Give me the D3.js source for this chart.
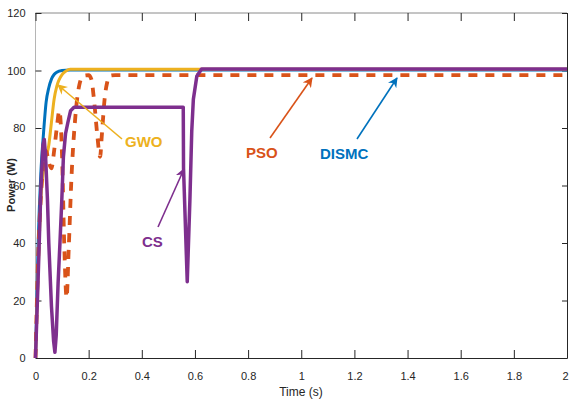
<!DOCTYPE html>
<html>
<head>
<meta charset="utf-8">
<script src="https://cdn.jsdelivr.net/npm/d3@7"></script>
<style>
  body { margin: 0; background: #fff; }
  svg { display: block; }
</style>
</head>
<body>
<svg id="plotSVG" width="569" height="401"></svg>
<script>
// values: time (s) and power (W)
let dismcT = [0, 0.01, 0.02, 0.03, 0.04, 0.05, 0.06, 0.07, 0.08, 0.1, 0.13, 2]
let dismcP = [0, 40, 64, 78, 89, 94, 97, 98.6, 99.4, 100, 100.2, 100.2]

let gwoT = [0, 0.01, 0.02, 0.035, 0.05, 0.06, 0.07, 0.08, 0.09, 0.1, 0.115, 0.13, 2]
let gwoP = [0, 30, 55, 68, 74, 82, 90, 94.5, 97, 98.6, 99.8, 100.4, 100.4]

let psoT = [0, 0.01, 0.02, 0.03, 0.04, 0.05, 0.06, 0.07, 0.08, 0.09, 0.1, 0.108, 0.117,
            0.125, 0.135, 0.15, 0.165, 0.18, 0.2, 0.21, 0.22, 0.232, 0.243, 0.25, 0.26, 0.27, 0.28, 0.3, 2]
let psoP = [0, 35, 56, 68, 72, 68, 66, 72, 80, 86, 70, 40, 21,
            38, 62, 84, 95, 98.2, 98.4, 97, 90, 78, 70, 78, 90, 96, 98.2, 98.4, 98.4]

let csT = [0, 0.01, 0.02, 0.028, 0.033, 0.038, 0.045, 0.05, 0.06, 0.068, 0.073, 0.078, 0.085,
           0.092, 0.099, 0.105, 0.113, 0.122, 0.132, 0.145, 0.556, 0.557, 0.571, 0.581, 0.588, 0.594, 0.607, 0.625, 2]
let csP = [0, 28, 58, 74, 76, 70, 55, 40, 18, 6, 2, 8, 26,
           40, 55, 70, 78, 82, 86, 87.2, 87.2, 66, 26.5, 55, 79, 90, 98, 100.5, 100.5]

let xTicks = [0, 0.2, 0.4, 0.6, 0.8, 1, 1.2, 1.4, 1.6, 1.8, 2]
let xTickLabels = ["0", "0.2", "0.4", "0.6", "0.8", "1", "1.2", "1.4", "1.6", "1.8", "2"]
let yTicks = [0, 20, 40, 60, 80, 100, 120]
let yTickLabels = ["0", "20", "40", "60", "80", "100", "120"]

let seriesNames = ["DISMC", "GWO", "PSO", "CS"]
let seriesColors = {
    "DISMC": "#0072BD",
    "GWO": "#EDB120",
    "PSO": "#D95319",
    "CS": "#7E2F8E"}

let xScale = d3.scaleLinear().domain([0, 2]).range([35.5, 567])
let yScale = d3.scaleLinear().domain([0, 120]).range([358, 13])

let svg = d3.select("#plotSVG")
let tickFont = "'Liberation Sans Narrow', 'Liberation Sans', Arial, sans-serif"

// box lines
svg.append("line").attr("x1", 35.5).attr("x2", 567).attr("y1", 13).attr("y2", 13)
    .attr("stroke", "#8a8a8a").attr("stroke-width", 1)
svg.append("line").attr("x1", 35.5).attr("x2", 35.5).attr("y1", 13).attr("y2", 358)
    .attr("stroke", "#b5b5b5").attr("stroke-width", 1)

// bottom axis (ticks point inward)
let xAxis = svg.append("g")
    .attr("transform", "translate(0,358)")
    .call(d3.axisBottom(xScale)
        .tickValues(xTicks)
        .tickFormat((d, i) => xTickLabels[i])
        .tickSizeInner(-8)
        .tickSizeOuter(0)
        .tickPadding(14))
xAxis.select(".domain").attr("stroke", "#262626")
xAxis.selectAll("text").style("font-family", tickFont).style("font-size", "11px").attr("fill", "#262626")
// the last label sits on the window edge, pull it in a little
xAxis.selectAll("text").filter(d => d === 2).attr("dx", -2)

// top ticks
svg.append("g")
    .attr("transform", "translate(0,13)")
    .call(d3.axisTop(xScale).tickValues(xTicks).tickFormat("").tickSizeInner(-8).tickSizeOuter(0))
    .select(".domain").remove()

// left axis
let yAxis = svg.append("g")
    .attr("transform", "translate(35.5,0)")
    .call(d3.axisLeft(yScale)
        .tickValues(yTicks)
        .tickFormat((d, i) => yTickLabels[i])
        .tickSizeInner(-6)
        .tickSizeOuter(0)
        .tickPadding(10))
yAxis.select(".domain").remove()
yAxis.selectAll("text").style("font-family", tickFont).style("font-size", "11px").attr("fill", "#262626")

// right axis
let rAxis = svg.append("g")
    .attr("transform", "translate(567,0)")
    .call(d3.axisRight(yScale).tickValues(yTicks).tickFormat("").tickSizeInner(-5).tickSizeOuter(0))
rAxis.select(".domain").attr("stroke", "#262626")

svg.selectAll(".tick line").attr("stroke", "#262626")

// axis titles
svg.append("text")
    .attr("x", 301).attr("y", 396)
    .attr("text-anchor", "middle")
    .style("font-family", tickFont)
    .style("font-size", "12px")
    .attr("fill", "#262626")
    .text("Time (s)")

svg.append("text")
    .attr("transform", "translate(15,185) rotate(-90)")
    .attr("text-anchor", "middle")
    .style("font-family", "'Liberation Sans', Arial, sans-serif")
    .style("font-size", "11px")
    .style("font-weight", "bold")
    .attr("fill", "#262626")
    .text("Power (W)")

// curves
let line = d3.line().x(d => xScale(d[0])).y(d => yScale(d[1])).curve(d3.curveMonotoneX)
let zipped = (ts, ps) => ts.map((t, i) => [t, ps[i]])

let plot = svg.append("g")
plot.append("path").datum(zipped(dismcT, dismcP))
    .attr("d", line).attr("fill", "none")
    .attr("stroke", seriesColors.DISMC).attr("stroke-width", 3)
plot.append("path").datum(zipped(gwoT, gwoP))
    .attr("d", line).attr("fill", "none")
    .attr("stroke", seriesColors.GWO).attr("stroke-width", 3)
plot.append("path").datum(zipped(psoT, psoP))
    .attr("d", line).attr("fill", "none")
    .attr("stroke", seriesColors.PSO).attr("stroke-width", 3.8)
    .attr("stroke-dasharray", "9,8")
plot.append("path").datum(zipped(csT, csP))
    .attr("d", d3.line().x(d => xScale(d[0])).y(d => yScale(d[1])))
    .attr("fill", "none")
    .attr("stroke", seriesColors.CS).attr("stroke-width", 3.5)
    .attr("stroke-linejoin", "round")

// arrow heads
let defs = svg.append("defs")
seriesNames.forEach(name => {
    defs.append("marker")
        .attr("id", "arrow-" + name)
        .attr("viewBox", "0 0 10 10")
        .attr("refX", 9).attr("refY", 5)
        .attr("markerWidth", 10).attr("markerHeight", 10)
        .attr("markerUnits", "userSpaceOnUse")
        .attr("orient", "auto")
        .append("path")
        .attr("d", "M0,0 L10,5 L0,10 L3,5 Z")
        .attr("fill", seriesColors[name])
})

// annotations (pixel layout)
let notes = [
    {name: "GWO", tx: 125, ty: 146.5, x1: 122, y1: 139, x2: 58, y2: 85},
    {name: "PSO", tx: 246, ty: 158, x1: 270, y1: 138, x2: 312, y2: 78},
    {name: "DISMC", tx: 320, ty: 159, x1: 357, y1: 139, x2: 397, y2: 78},
    {name: "CS", tx: 142, ty: 247, x1: 158, y1: 227, x2: 184, y2: 169}
]

notes.forEach(n => {
    svg.append("line")
        .attr("x1", n.x1).attr("y1", n.y1).attr("x2", n.x2).attr("y2", n.y2)
        .attr("stroke", seriesColors[n.name]).attr("stroke-width", 1.6)
        .attr("marker-end", "url(#arrow-" + n.name + ")")
    svg.append("text")
        .attr("x", n.tx).attr("y", n.ty)
        .style("font-family", tickFont)
        .style("font-size", "15px")
        .style("font-weight", "bold")
        .attr("fill", seriesColors[n.name])
        .text(n.name)
})
</script>
</body>
</html>
